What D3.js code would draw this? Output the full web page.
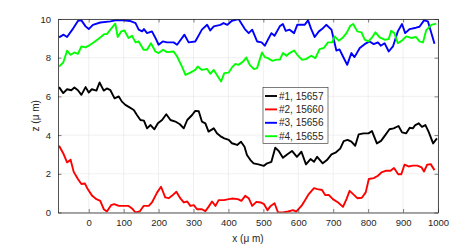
<!DOCTYPE html>
<html><head><meta charset="utf-8">
<script src="https://cdn.jsdelivr.net/npm/d3@7"></script>
<style>body{margin:0;background:#fff;} svg{display:block;} text{font-family:"Liberation Sans",Arial,sans-serif;}</style>
</head><body><svg id="c" width="463" height="249"></svg>
<script>
const xTicks = [0,100,200,300,400,500,600,700,800,900,1000];
const yTicks = [0,2,4,6,8,10];
const seriesNames = ["#1, 15657","#2, 15660","#3, 15656","#4, 15655"];
const seriesColors = ["#000000","#ff0000","#0000ff","#00ff00"];

const s1 = [[-85,6.48],[-73,6.17],[-62,6.37],[-50,6.32],[-41,6.46],[-31,6.32],[-21,6.08],[-9,6.48],[0,6.2],[9,6.37],[22,6.3],[31,6.72],[43,6.3],[52,6.41],[62,6.32],[74,5.9],[86,6.0],[95,5.73],[105,5.56],[118,5.42],[129,5.3],[138,5.04],[148,4.78],[158,4.75],[167,4.35],[177,4.52],[188,4.3],[198,4.61],[210,4.78],[222,5.08],[234,4.78],[248,4.7],[261,4.56],[272,4.35],[282,4.78],[296,5.04],[305,5.25],[315,5.23],[324,4.7],[334,4.61],[343,4.18],[358,4.35],[367,4.09],[379,3.92],[388,3.83],[401,3.75],[410,3.58],[425,3.49],[436,3.66],[446,3.4],[453,2.97],[463,2.71],[472,2.54],[486,2.49],[501,2.41],[511,2.54],[523,2.62],[534,3.35],[544,3.18],[556,2.83],[568,3.0],[582,3.18],[596,2.88],[609,3.14],[622,2.49],[635,2.76],[645,2.62],[654,2.88],[670,2.54],[682,2.71],[695,3.0],[708,3.11],[720,3.3],[730,3.69],[741,3.75],[752,3.66],[763,3.45],[773,4.04],[787,4.09],[801,4.09],[811,4.21],[825,3.57],[837,3.7],[849,4.0],[861,4.3],[873,4.35],[887,4.47],[897,4.14],[909,4.09],[919,4.38],[928,4.35],[935,4.52],[945,4.61],[954,4.43],[964,4.52],[973,4.18],[986,3.57],[997,3.83]];

const s2 = [[-85,3.45],[-72,3.02],[-62,2.59],[-52,2.73],[-43,2.1],[-31,1.73],[-21,1.47],[-11,1.5],[-3,1.21],[10,0.86],[22,0.69],[33,0.6],[43,0.17],[52,0.05],[64,0.38],[73,0.43],[86,0.34],[100,0.34],[114,0.34],[124,0.21],[134,0],[146,0.05],[157,0.34],[172,0.34],[181,0.52],[196,1.04],[207,1.33],[219,0.78],[229,0.74],[238,0.86],[251,1.07],[262,0.74],[272,0.52],[282,0.57],[291,0.34],[301,0.38],[310,0.17],[324,0.17],[334,0.07],[343,0.29],[353,0.57],[363,0.34],[372,0.64],[387,0.64],[401,0.69],[410,0.72],[427,0.69],[437,0.6],[448,0.86],[458,0.74],[468,0.34],[480,0.55],[492,0.52],[502,0.43],[512,0.12],[521,0.34],[532,0.48],[542,0],[556,0],[571,0.05],[585,0.12],[594,0.05],[609,0.34],[618,0.6],[630,0.95],[645,1.26],[655,1.21],[668,1.16],[677,0.9],[687,0.91],[699,0.69],[714,0.52],[728,0.29],[738,0.69],[747,1.12],[757,0.95],[769,0.74],[782,0.76],[793,1.04],[802,1.73],[816,1.78],[828,1.9],[838,2.07],[852,2.16],[864,2.16],[874,2.3],[886,1.98],[895,1.98],[904,2.47],[916,2.38],[928,2.42],[941,2.42],[953,2.33],[960,2.12],[969,2.47],[979,2.5],[990,2.19]];

const s3 = [[-85,9.05],[-72,9.19],[-62,9.07],[-47,9.45],[-31,9.9],[-21,9.93],[-9,9.62],[0,9.48],[12,9.7],[33,9.82],[62,9.88],[76,9.93],[100,9.93],[118,9.9],[134,9.79],[143,9.45],[153,9.36],[158,9.48],[167,9.27],[181,9.36],[191,9.02],[200,8.67],[212,8.84],[224,8.79],[243,8.79],[253,8.67],[274,9.19],[286,8.79],[305,8.84],[324,9.45],[339,9.7],[348,9.41],[358,9.62],[377,9.7],[386,9.79],[397,9.7],[410,9.91],[429,10.0],[447,9.48],[458,9.27],[468,9.45],[482,8.84],[495,8.79],[504,8.62],[523,9.27],[532,9.13],[547,9.62],[556,9.74],[564,9.39],[575,9.45],[588,9.27],[597,9.7],[618,9.7],[628,9.93],[637,9.48],[647,9.07],[659,9.36],[668,9.48],[680,9.7],[695,9.45],[709,8.37],[718,8.43],[728,8.06],[740,7.63],[752,8.24],[761,8.03],[776,8.5],[790,8.7],[804,8.84],[816,8.7],[828,8.79],[836,8.62],[847,8.75],[859,8.32],[871,8.58],[885,9.36],[897,9.74],[906,9.27],[919,9.48],[937,9.55],[947,9.6],[960,9.93],[971,9.88],[990,8.72]];

const s4 = [[-85,7.54],[-73,7.75],[-62,8.36],[-52,8.15],[-41,8.27],[-31,8.2],[-21,8.58],[-9,8.53],[0,8.62],[14,8.79],[33,9.05],[45,9.22],[52,9.22],[62,9.45],[76,9.76],[83,9.07],[93,9.36],[102,9.41],[114,9.02],[124,9.13],[134,8.79],[143,8.84],[157,8.41],[167,8.41],[178,8.75],[191,8.32],[200,8.24],[213,8.41],[224,8.29],[243,8.32],[253,8.06],[267,7.54],[277,7.11],[291,7.23],[305,7.37],[312,7.54],[324,7.37],[339,7.42],[348,7.17],[358,7.37],[367,7.11],[379,6.77],[388,7.2],[401,7.23],[410,7.5],[420,7.68],[429,7.63],[442,7.8],[451,8.01],[461,7.63],[473,7.41],[482,7.46],[496,8.27],[504,8.03],[513,7.98],[525,7.84],[538,7.9],[547,7.9],[556,8.24],[566,8.1],[575,8.24],[588,8.37],[597,8.15],[611,7.89],[623,7.94],[637,8.1],[649,7.98],[661,8.44],[673,8.5],[685,8.79],[697,8.79],[704,9.1],[716,8.88],[728,9.05],[738,9.27],[749,9.65],[757,9.74],[769,9.36],[781,9.31],[790,8.93],[801,8.84],[810,9.02],[821,9.31],[833,9.05],[847,8.93],[859,8.96],[866,9.39],[875,9.27],[885,8.75],[897,8.88],[909,9.1],[923,9.02],[937,9.07],[947,8.84],[957,8.79],[966,9.41],[981,9.7],[995,9.76]];

const seriesData = [s1, s2, s3, s4];

const svg = d3.select("#c");
const L = 58, R = 438, T = 19, B = 212.5;
const x = d3.scaleLinear().domain([-88, 1000]).range([L, R]);
const y = d3.scaleLinear().domain([0, 10]).range([B, T]);
const axisColor = "#262626";

// grid
const g = svg.append("g");
g.selectAll("line.gx").data(xTicks).enter().append("line")
  .attr("x1", d => x(d)).attr("x2", d => x(d)).attr("y1", T).attr("y2", B)
  .attr("stroke", "#e6e6e6").attr("stroke-width", 0.6);
g.selectAll("line.gy").data(yTicks).enter().append("line")
  .attr("x1", L).attr("x2", R).attr("y1", d => y(d)).attr("y2", d => y(d))
  .attr("stroke", "#e6e6e6").attr("stroke-width", 0.6);

// clip
svg.append("defs").append("clipPath").attr("id", "clip")
  .append("rect").attr("x", L).attr("y", T).attr("width", R - L).attr("height", B - T);

const line = d3.line().x(d => x(d[0])).y(d => y(d[1]));
const lg = svg.append("g").attr("clip-path", "url(#clip)");
seriesData.forEach((s, i) => {
  lg.append("path").datum(s).attr("d", line).attr("fill", "none")
    .attr("stroke", seriesColors[i]).attr("stroke-width", 1.9).attr("stroke-linejoin", "round");
});

// axes
function styleAxis(sel) {
  sel.select(".domain").attr("stroke", axisColor).attr("stroke-width", 0.8);
  sel.selectAll(".tick line").attr("stroke", axisColor).attr("stroke-width", 0.6);
  sel.selectAll(".tick text").attr("fill", axisColor).style("font-size", "9.5px").style("font-family", "'Liberation Sans', Arial, sans-serif");
}
const fmt = d3.format("d");
const xb = svg.append("g").attr("transform", `translate(0,${B})`)
  .call(d3.axisBottom(x).tickValues(xTicks).tickFormat(fmt).tickSizeInner(-3.5).tickSizeOuter(0).tickPadding(7));
styleAxis(xb);
const xt = svg.append("g").attr("transform", `translate(0,${T})`)
  .call(d3.axisTop(x).tickValues(xTicks).tickSizeInner(-3.5).tickSizeOuter(0).tickFormat(""));
styleAxis(xt);
const yl = svg.append("g").attr("transform", `translate(${L},0)`)
  .call(d3.axisLeft(y).tickValues(yTicks).tickFormat(fmt).tickSizeInner(-3.5).tickSizeOuter(0).tickPadding(7));
styleAxis(yl);
const yr = svg.append("g").attr("transform", `translate(${R},0)`)
  .call(d3.axisRight(y).tickValues(yTicks).tickSizeInner(-3.5).tickSizeOuter(0).tickFormat(""));
styleAxis(yr);

// axis labels
svg.append("text").attr("x", (L + R) / 2).attr("y", 242).attr("text-anchor", "middle")
  .attr("fill", axisColor).style("font-size", "10px").text("x (μ m)");
svg.append("text").attr("transform", `translate(39,${(T + B) / 2}) rotate(-90)`).attr("text-anchor", "middle")
  .attr("fill", axisColor).style("font-size", "10px").text("z (μ m)");

// legend
const lgX = 263, lgY = 87.5, lgW = 65, lgH = 56;
const leg = svg.append("g");
leg.append("rect").attr("x", lgX).attr("y", lgY).attr("width", lgW).attr("height", lgH)
  .attr("fill", "#fff").attr("stroke", "#262626").attr("stroke-width", 0.6);
seriesNames.forEach((n, i) => {
  const cy = lgY + 8.5 + i * 13.4;
  leg.append("line").attr("x1", lgX + 2).attr("x2", lgX + 14).attr("y1", cy).attr("y2", cy)
    .attr("stroke", seriesColors[i]).attr("stroke-width", 1.9);
  leg.append("text").attr("x", lgX + 16).attr("y", cy + 3.5).attr("fill", axisColor)
    .style("font-size", "10px").text(n);
});
</script></body></html>
